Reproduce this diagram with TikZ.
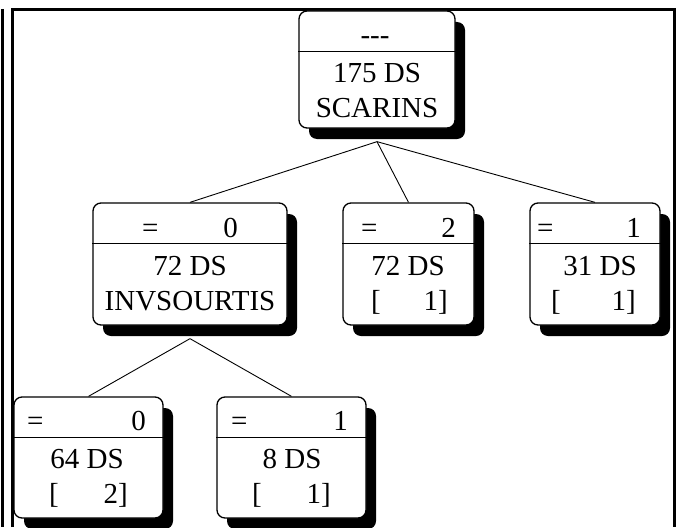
\documentclass[tikz,border=0pt]{standalone}
\usepackage{fontspec}
\setmainfont{Liberation Serif}
\usetikzlibrary{shadows}
\pgfdeclarelayer{bg}
\pgfsetlayers{bg,main}
\begin{document}
\begin{tikzpicture}[x=1pt,y=-1pt,
  box/.style={draw, line width=1.3pt, rounded corners=8pt, fill=white, inner sep=0pt,
    drop shadow={shadow xshift=10pt, shadow yshift=-11pt, opacity=1, fill=black}},
  divline/.style={line width=1pt},
  frameline/.style={line width=3pt, line join=miter},
  edge/.style={line width=0.9pt},
  txt/.style={inner sep=0pt, font=\fontsize{29}{34}\selectfont}]
\useasboundingbox (0,0) rectangle (682,527);
% frame
\draw[frameline] (2.5,9) -- (2.5,527);
\draw[frameline] (12,527) -- (12,10) -- (674,10) -- (674,527);
% boxes
\node[box, minimum width=156pt, minimum height=117pt] (r) at (377,69.5) {};
\node[box, minimum width=194pt, minimum height=122pt] (a) at (190,264) {};
\node[box, minimum width=131pt, minimum height=122pt] (b) at (408.5,264) {};
\node[box, minimum width=130pt, minimum height=122pt] (c) at (595,264) {};
\node[box, minimum width=149pt, minimum height=121pt] (d) at (88.5,457.5) {};
\node[box, minimum width=149pt, minimum height=121pt] (e) at (291.5,457.5) {};
% dividers
\draw[divline] (r.west |- 0,52) -- (r.east |- 0,52);
\draw[divline] (a.west |- 0,243) -- (a.east |- 0,243);
\draw[divline] (b.west |- 0,243) -- (b.east |- 0,243);
\draw[divline] (c.west |- 0,243) -- (c.east |- 0,243);
\draw[divline] (d.west |- 0,437) -- (d.east |- 0,437);
\draw[divline] (e.west |- 0,437) -- (e.east |- 0,437);
% texts root
\node[txt, anchor=base] (r1) at (375,45) {-{}-{}-};
\node[txt, anchor=base] (r2) at (377,82) {175 DS};
\node[txt, anchor=base] (r3) at (377,117) {SCARINS};
% a
\node[txt, anchor=base west] (a1) at (142,237) {=};
\node[txt, anchor=base east] (a2) at (238,237) {0};
\node[txt, anchor=base] (a3) at (190,275) {72 DS};
\node[txt, anchor=base] (a4) at (190,310) {INVSOURTIS};
% b
\node[txt, anchor=base west] (b1) at (361,237) {=};
\node[txt, anchor=base east] (b2) at (456,237) {2};
\node[txt, anchor=base] (b3) at (408,275) {72 DS};
\node[txt, anchor=base west] (b4) at (371,310) {[};
\node[txt, anchor=base east] (b5) at (448,310) {1]};
% c
\node[txt, anchor=base west] (c1) at (537,237) {=};
\node[txt, anchor=base east] (c2) at (641,237) {1};
\node[txt, anchor=base] (c3) at (600,275) {31 DS};
\node[txt, anchor=base west] (c4) at (551,310) {[};
\node[txt, anchor=base east] (c5) at (636,310) {1]};
% d
\node[txt, anchor=base west] (d1) at (27,430) {=};
\node[txt, anchor=base east] (d2) at (146,430) {0};
\node[txt, anchor=base] (d3) at (87,468) {64 DS};
\node[txt, anchor=base west] (d4) at (49,503) {[};
\node[txt, anchor=base east] (d5) at (128,503) {2]};
% e
\node[txt, anchor=base west] (e1) at (231,430) {=};
\node[txt, anchor=base east] (e2) at (348,430) {1};
\node[txt, anchor=base] (e3) at (292,468) {8 DS};
\node[txt, anchor=base west] (e4) at (252,503) {[};
\node[txt, anchor=base east] (e5) at (331,503) {1]};
% edges
\begin{pgfonlayer}{bg}
\draw[edge] ([yshift=-13pt]r.south) -- (a.north);
\draw[edge] ([yshift=-13pt]r.south) -- (b.north);
\draw[edge] ([yshift=-13pt]r.south) -- (c.north);
\draw[edge] ([yshift=-13pt]a.south) -- (d.north);
\draw[edge] ([yshift=-13pt]a.south) -- (e.north);
\end{pgfonlayer}
\end{tikzpicture}
\end{document}
